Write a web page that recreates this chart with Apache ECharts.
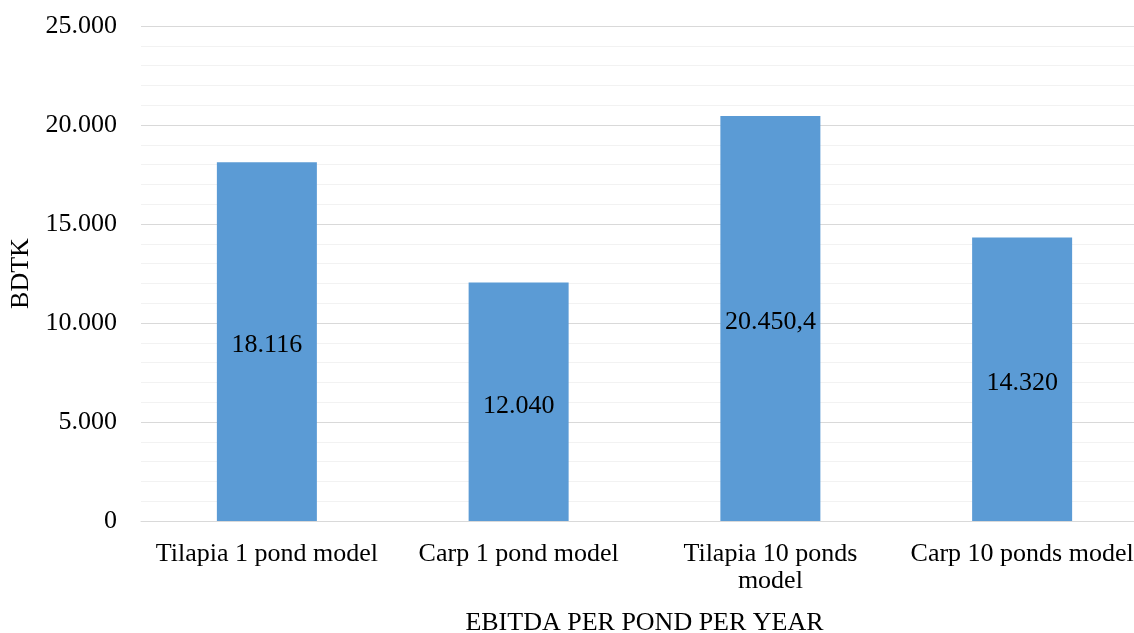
<!DOCTYPE html>
<html><head><meta charset="utf-8">
<script src="https://cdn.jsdelivr.net/npm/echarts@6/dist/echarts.min.js"></script>
<style>html,body{margin:0;padding:0;background:#fff;overflow:hidden}#c{width:1134px;height:633px;overflow:hidden}</style>
</head><body><div id="c"></div>
<script>
const categories = ["Tilapia 1 pond model", "Carp 1 pond model", "Tilapia 10 ponds\nmodel", "Carp 10 ponds model"];
const values = [18116, 12040, 20450.4, 14320];
const yTicks = [0, 5000, 10000, 15000, 20000, 25000];
const yTitle = "BDTK";
const xTitle = "EBITDA PER POND PER YEAR";

function fmt(v) {
  const parts = String(v).split(".");
  const intPart = parts[0].replace(/\B(?=(\d{3})+(?!\d))/g, ".");
  return parts.length > 1 ? intPart + "," + parts[1] : intPart;
}
const FONT = "'Liberation Serif','Times New Roman',serif";
const chart = echarts.init(document.getElementById('c'), null, {renderer: 'canvas', width: 1134, height: 633});
chart.setOption({
  animation: false,
  grid: {left: 141, top: 26, width: 1007, height: 495, containLabel: false, outerBoundsMode: 'none'},
  xAxis: {
    type: 'category', data: categories,
    axisLine: {lineStyle: {color: '#d9d9d9', width: 1}},
    axisTick: {show: false},
    axisLabel: {color: '#000', fontFamily: FONT, fontSize: 26, margin: 20, lineHeight: 27, interval: 0},
    name: xTitle, nameLocation: 'middle', nameGap: 89,
    nameTextStyle: {color: '#000', fontFamily: FONT, fontSize: 26}
  },
  yAxis: {
    type: 'value', min: 0, max: yTicks[yTicks.length - 1], interval: 5000,
    axisLine: {show: false}, axisTick: {show: false},
    axisLabel: {color: '#000', fontFamily: FONT, fontSize: 26, margin: 24, formatter: v => fmt(v)},
    splitLine: {lineStyle: {color: '#d9d9d9', width: 1}},
    minorTick: {show: false, splitNumber: 5},
    minorSplitLine: {show: true, lineStyle: {color: '#f2f2f2', width: 1}},
    name: yTitle, nameLocation: 'middle', nameGap: 105, nameRotate: 90,
    nameTextStyle: {color: '#000', fontFamily: FONT, fontSize: 26}
  },
  series: [{
    type: 'bar', data: values, barWidth: 100,
    itemStyle: {color: '#5b9bd5'},
    label: {show: true, position: 'inside', offset: [0, 4], color: '#000', fontFamily: FONT, fontSize: 26,
      formatter: p => fmt(p.value)}
  }]
});
</script></body></html>
